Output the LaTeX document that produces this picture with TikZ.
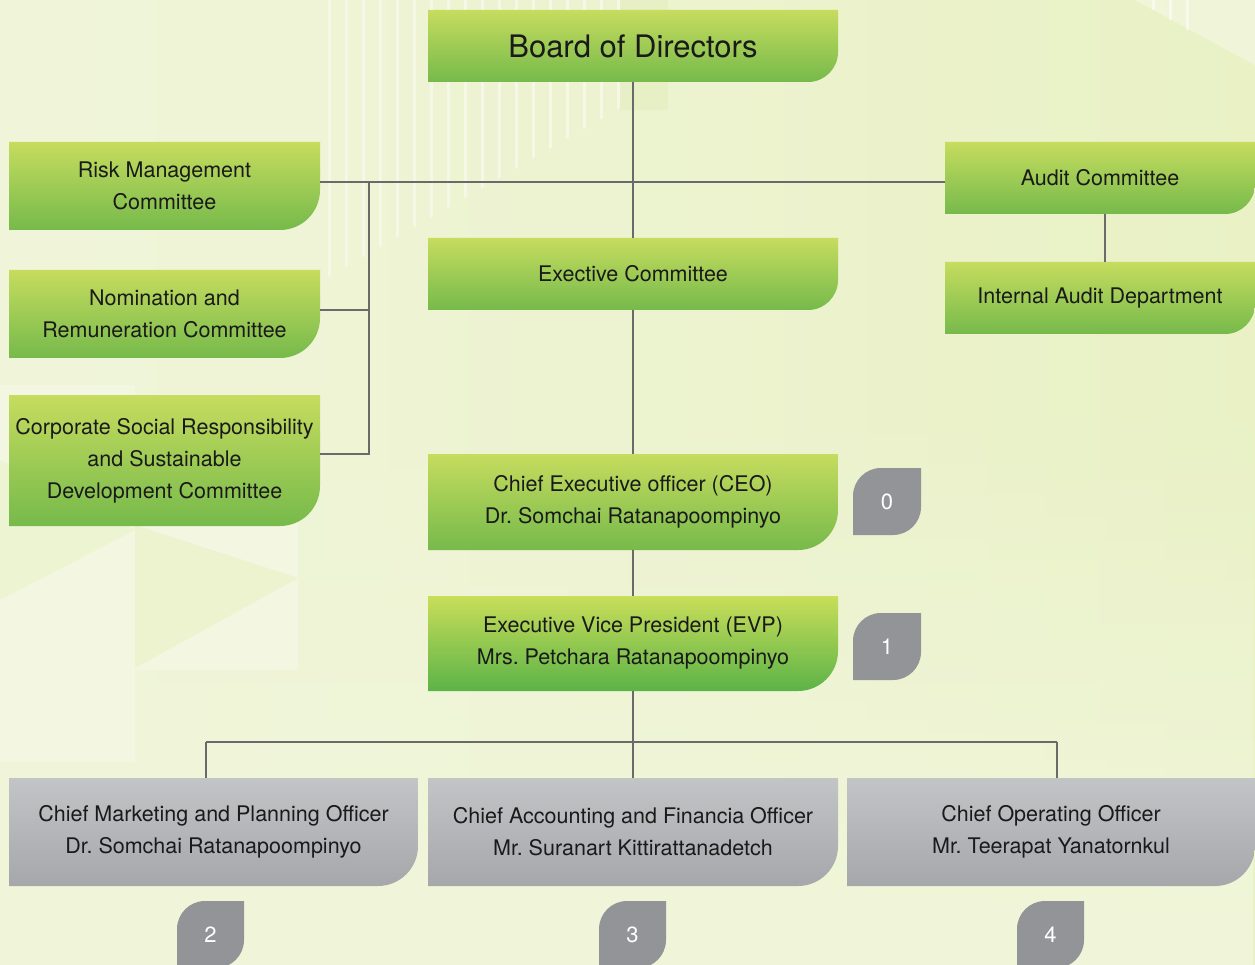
\documentclass[tikz,border=0pt]{standalone}
\usepackage{fontspec}
\setmainfont{TeX Gyre Heros}
\usetikzlibrary{calc,fadings}
\frenchspacing

\definecolor{bgtop}{HTML}{E9F1C5}
\definecolor{bgleft}{HTML}{F0F5DA}
\definecolor{bgbot}{HTML}{F1F6DB}
\definecolor{bglight}{HTML}{F3F7E2}
\definecolor{bgband}{HTML}{E4EDBD}
\definecolor{grtop}{HTML}{C6DC5E}
\definecolor{grbot}{HTML}{76BA4B}
\definecolor{evpbot}{HTML}{5CB347}
\definecolor{gytop}{HTML}{C3C4C6}
\definecolor{gybot}{HTML}{A6A7AA}
\definecolor{badgegray}{HTML}{939498}
\definecolor{linkgray}{HTML}{6A6A6A}
\definecolor{ink}{HTML}{1A1A1A}

% box outline: sharp corners, rounded bottom-right corner
\newcommand\orgshape[6]{%
  \path[#6] (#1,-#2) -- (#3,-#2) -- (#3,-#4+#5)
    arc[start angle=0,end angle=-90,radius=#5pt] -- (#1,-#4) -- cycle;}
% named text node covering the box
\newcommand\orgbox[8]{%
  \orgshape{#2}{#3}{#4}{#5}{#6}{#7}
  \node[boxtext, minimum width=#4pt-#2pt, minimum height=#5pt-#3pt]
    (#1) at ({(#2+#4)/2},{-(#3+#5)/2}) {#8};}
% leaf-shaped number badge: rounded top-left and bottom-right
\newcommand\badge[6]{%
  \fill[badgegray] (#2,-#3-28) arc[start angle=180,end angle=90,radius=28pt]
    -- (#4,-#3) -- (#4,-#5+28) arc[start angle=0,end angle=-90,radius=28pt]
    -- (#2,-#5) -- cycle;
  \node[badgetext, minimum width=#4pt-#2pt, minimum height=#5pt-#3pt]
    (#1) at ({(#2+#4)/2},{-(#3+#5)/2}) {#6};}

\tikzset{
  boxtext/.style={inner sep=0pt, align=center, text=ink,
    font=\fontsize{21.5}{32}\selectfont},
  bigtext/.style={boxtext, font=\fontsize{31}{36}\selectfont},
  badgetext/.style={inner sep=0pt, text=white, font=\fontsize{22}{26}\selectfont},
  greenfill/.style={top color=grtop, bottom color=grbot},
  evpfill/.style={top color=grtop!95!yellow, bottom color=evpbot},
  grayfill/.style={top color=gytop, bottom color=gybot},
  link/.style={draw=linkgray, line width=1.3pt},
}

\begin{document}
\begin{tikzpicture}[x=1pt,y=1pt]
% ---- background ----
\useasboundingbox (0,0) rectangle (1255,-965);
\fill[left color=bgleft, right color=bgtop] (0,0) rectangle (1255,-965);
\fill[bgbot, path fading=north] (0,-400) rectangle (1255,-965);
\fill[bglight] (0,-385) rectangle (135,-762);
\fill[bglight] (135,-520) rectangle (298,-670);
\fill[bgtop!70!bglight] (135,-525) -- (298,-578) -- (135,-668) -- cycle;
\fill[bgtop!60!bglight] (0,-460) -- (135,-530) -- (0,-600) -- cycle;
\fill[white, opacity=0.25] (0,0) -- (420,0) -- (0,240) -- cycle;
\fill[bgband, opacity=0.5] (620,0) rectangle (668,-110);
\fill[white, opacity=0.35] (1135,0) -- (1255,0) -- (1255,-65) -- cycle;
\begin{scope}
  \clip (320,0) -- (625,0) -- (625,-105) -- (320,-282) -- cycle;
  \foreach \sx in {328,345,...,620} {
    \fill[white, opacity=0.45] (\sx,0) rectangle ++(3,-290);
  }
\end{scope}
\foreach \sx/\sl in {1152/10,1169/20,1186/30} {
  \fill[white, opacity=0.5] (\sx,0) rectangle ++(3,-\sl);
}

% ---- boxes ----
\orgshape{428}{10}{838}{82}{30}{greenfill}
\node[bigtext, minimum width=410pt, minimum height=72pt] (board) at (633,-46) {Board of Directors};

\orgbox{risk}{9}{142}{320}{230}{40}{greenfill}{Risk Management\\Committee}
\orgbox{nom}{9}{270}{320}{358}{40}{greenfill}{Nomination and\\Remuneration Committee}
\orgbox{csr}{9}{395}{320}{526}{40}{greenfill}{Corporate Social Responsibility\\and Sustainable\\Development Committee}
\orgbox{exec}{428}{238}{838}{310}{30}{greenfill}{Exective Committee}
\orgbox{audit}{945}{142}{1255}{214}{30}{greenfill}{Audit Committee}
\orgbox{ia}{945}{262}{1255}{334}{30}{greenfill}{Internal Audit Department}
\orgbox{ceo}{428}{454}{838}{550}{40}{greenfill}{Chief Executive officer (CEO)\\Dr. Somchai Ratanapoompinyo}
\orgbox{evp}{428}{596}{838}{691}{40}{evpfill}{Executive Vice President (EVP)\\Mrs. Petchara Ratanapoompinyo}

\orgbox{cmo}{9}{778}{418}{886}{40}{grayfill}{Chief Marketing and Planning Officer\\Dr. Somchai Ratanapoompinyo}
\orgbox{cfo}{428}{778}{838}{886}{40}{grayfill}{Chief Accounting and Financia Officer\\Mr. Suranart Kittirattanadetch}
\orgbox{coo}{847}{778}{1255}{886}{40}{grayfill}{Chief Operating Officer\\Mr. Teerapat Yanatornkul}

\badge{b0}{853}{468}{921}{535}{0}
\badge{b1}{853}{613}{921}{680}{1}
\badge{b2}{177}{901}{244}{968}{2}
\badge{b3}{599}{901}{666}{968}{3}
\badge{b4}{1017}{901}{1084}{968}{4}

% ---- connectors ----
\coordinate (topbus) at (633,-182);
\coordinate (cbus) at (369,-182);
\coordinate (cnom) at (369,-310);
\coordinate (ccsr) at (369,-454);
\coordinate (lowbus) at (633,-742);
\coordinate (lowl) at (206,-742);
\coordinate (lowr) at (1057,-742);

\draw[link] (board.south) -- (exec.north);
\draw[link] (exec.south) -- (ceo.north);
\draw[link] (ceo.south) -- (evp.north);
\draw[link] (risk.east |- topbus) -- (audit.west |- topbus);
\draw[link] (cbus) -- (ccsr) -- (csr.east |- ccsr);
\draw[link] (nom.east |- cnom) -- (cnom);
\draw[link] ([xshift=5pt]audit.south) -- ([xshift=5pt]ia.north);
\draw[link] (evp.south) -- (lowbus);
\draw[link] (lowl) -- (lowr);
\draw[link] (lowl) -- (lowl |- cmo.north);
\draw[link] (lowbus) -- (cfo.north);
\draw[link] (lowr) -- (lowr |- coo.north);
\end{tikzpicture}
\end{document}
